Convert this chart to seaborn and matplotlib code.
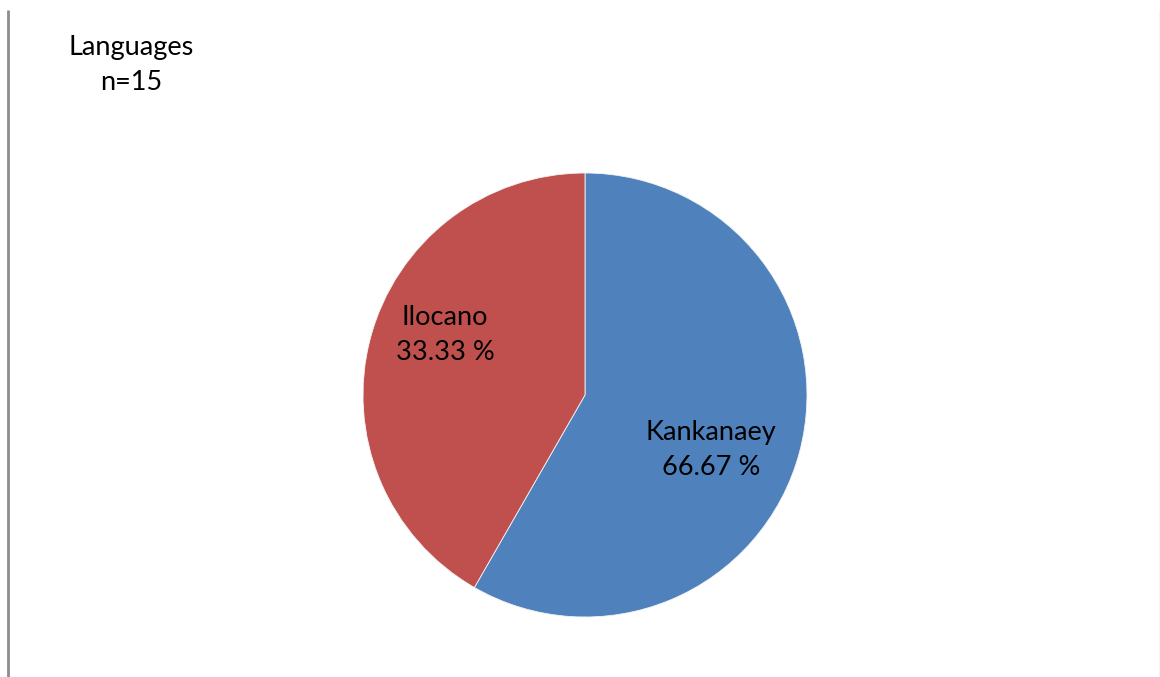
import matplotlib
matplotlib.use("Agg")
import matplotlib.pyplot as plt
import seaborn as sns

# Data (shares as drawn in the reference pie; label text as printed)
categories = ["Kankanaey", "Ilocano"]
shares = [58.3, 41.7]
pct_labels = ["66.67 %", "33.33 %"]
title_lines = ["Languages", "n=15"]
colors = ["#4F81BD", "#C0504D"]

sns.set_theme(style="white")
plt.rcParams['font.family'] = ['Lato', 'DejaVu Sans']

W, H = 1160, 677
fig = plt.figure(figsize=(W / 100, H / 100), dpi=100)
ax = fig.add_axes([0, 0, 1, 1])

cx, cy, r = 585, H - 395, 222
wedges, _ = ax.pie(shares, colors=colors, startangle=90, counterclock=False,
                   center=(cx, cy), radius=r,
                   wedgeprops=dict(edgecolor="#f4f4f4", linewidth=0.6))
ax.set_xlim(0, W)
ax.set_ylim(0, H)
ax.set_aspect("equal")
ax.axis("off")

# data labels
label_pos = {"Kankanaey": (711, 450), "Ilocano": (445, 335)}
for cat, lab in zip(categories, pct_labels):
    x, y = label_pos[cat]
    ax.text(x, H - y, f"{cat}\n{lab}", ha="center", va="center",
            fontsize=19.5, color="black", linespacing=1.5)

ax.text(131, H - 65, "\n".join(title_lines), ha="center", va="center",
        fontsize=19.5, color="black", linespacing=1.5)

# chart-area borders
ax.plot([8, 8], [H - 10, 0], color="#8c8c8c", linewidth=2, solid_capstyle="butt")
ax.plot([1159.5, 1159.5], [H - 10, 0], color="#d0d0d0", linewidth=1)

fig.savefig("out.png", dpi=100)
